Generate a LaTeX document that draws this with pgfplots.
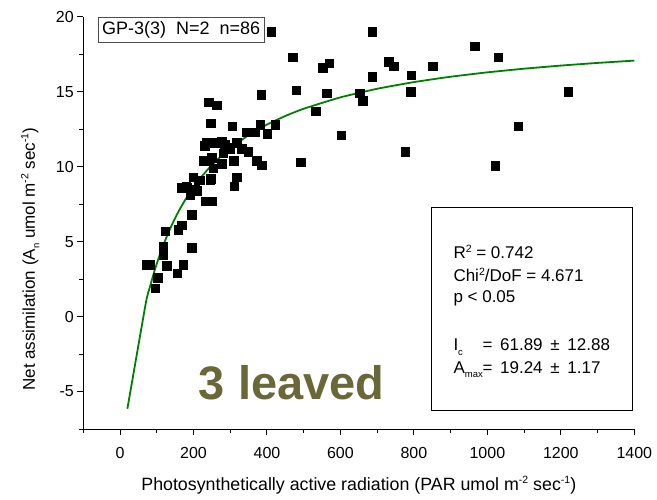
\documentclass[border=0pt]{standalone}
\usepackage{fontspec}
\setmainfont{Liberation Sans}
\usepackage{pgfplots}
\pgfplotsset{compat=1.18}
\definecolor{fitgreen}{RGB}{0,128,0}
\definecolor{olivetxt}{RGB}{106,104,56}
\newcommand{\subr}[1]{\raisebox{-4.5pt}{\fontsize{9.5}{10}\selectfont #1}}
\newcommand{\supr}[1]{\raisebox{6.5pt}{\fontsize{10.5}{11}\selectfont #1}}
\begin{document}
\begin{tikzpicture}[x=1pt,y=1pt]
\begin{axis}[
  at={(0,0)}, anchor=south west,
  scale only axis, width=551pt, height=412.3pt,
  xmin=-100, xmax=1400, ymin=-7.5, ymax=20,
  axis x line*=bottom, axis y line*=left,
  axis line style={line width=1pt, black, -},
  tick align=outside,
  xtick={0,200,...,1400}, minor xtick={-100,100,...,1300},
  ytick={-5,0,...,20}, minor ytick={-7.5,-2.5,2.5,7.5,12.5,17.5},
  major tick length=6pt, minor tick length=4pt,
  every tick/.style={black, line width=1pt},
  tick label style={font=\fontsize{16}{19}\selectfont},
  /pgf/number format/assume math mode=true,
  scaled ticks=false,
  xticklabel style={/pgf/number format/1000 sep={}, yshift=-9pt},
  xlabel={Photosynthetically active radiation (PAR umol m\supr{-2} sec\supr{-1})},
  ylabel={Net assimilation (A\subr{n} umol m\supr{-2} sec\supr{-1})},
  xlabel style={font=\fontsize{17.8}{20}\selectfont, at={(rel axis cs:0.5,0)}, anchor=center, yshift=-56pt},
  ylabel style={font=\fontsize{17}{20}\selectfont, at={(rel axis cs:0,0.412)}, anchor=center, yshift=53pt},
  clip=false,
]
\addplot[fitgreen, line width=1.8pt, smooth, tension=0.3] coordinates {
 (20,-6.15) (70,0.876) (80,1.852) (90,2.730) (100,3.523) (112,4.380) (125,5.209)
 (137,5.896) (150,6.568) (162,7.131) (175,7.687) (187,8.157) (200,8.624)
 (225,9.421) (250,10.107) (275,10.702) (300,11.226) (350,12.100) (400,12.803)
 (450,13.379) (500,13.861) (600,14.621) (700,15.193) (800,15.638) (900,15.996)
 (1000,16.288) (1100,16.532) (1200,16.739) (1300,16.917) (1400,17.071)
};
\addplot[only marks, mark=square*, mark size=4.2pt, mark options={fill=black, draw=black}] coordinates {
 (73,3.45) (82,3.45) (95,1.9) (102,2.6) (118,4.7) (118,4.1) (123,5.7) (127,3.4)
 (156,2.9) (159,5.8) (168,6.1) (172,3.45) (195,4.6) (195,6.8) (191,8.1) (232,7.7) (250,7.7)
 (168,8.6) (182,8.6) (195,8.4) (209,8.4) (200,9.3) (213,9.1) (218,9.1) (245,9.1) (247,9.2)
 (311,8.7) (318,9.3) (227,10.4) (243,10.4) (254,9.9) (277,10.2) (309,10.4) (372,10.4) (386,10.1)
 (281,10.9) (291,11.3) (318,11.6) (331,11.2) (349,11.0) (241,11.6) (263,11.6) (277,11.7)
 (236,11.6) (254,11.6) (272,11.6) (230,11.4) (285,11.5) (300,11.2) (205,8.5) (180,8.7) (250,10.6)
 (247,12.9) (306,12.7) (345,12.3) (368,12.3) (381,12.8) (401,12.2) (422,12.8) (241,14.3) (263,14.1) (384,14.8)
 (411,19.0) (686,19.0) (470,17.3) (552,16.6) (569,16.9) (731,17.0) (745,16.7) (851,16.7)
 (686,16.0) (792,16.1) (479,15.1) (563,14.9) (652,14.9) (661,14.4) (791,15.0) (533,13.7)
 (602,12.1) (777,11.0) (492,10.3) (966,18.05) (1030,17.3) (1220,15.0) (1084,12.7) (1021,10.05)
};
\end{axis}
% GP label box
\draw[line width=0.8pt, black!70] (15,386.7) rectangle (180.7,411.7);
\node[font=\fontsize{18}{20}\selectfont, anchor=center] at (97.9,399.2) {GP-3(3)\ \ N=2\ \ n=86};
% stats box
\draw[line width=0.8pt, black] (348.4,19) rectangle (549.4,221.7);
\begin{scope}[every node/.style={font=\fontsize{17}{20}\selectfont, anchor=base west, inner sep=0pt}]
\node at (370,170) {R\supr{2} = 0.742};
\node at (370,147) {Chi\supr{2}/DoF = 4.671};
\node at (370,126) {p < 0.05};
\node at (370,78) {I\subr{c}};
\node at (399,78) {=\hspace{3pt} 61.89 \hspace{3pt}±\hspace{3pt} 12.88};
\node at (370,56) {A\subr{max}};
\node at (399,56) {=\hspace{3pt} 19.24 \hspace{3pt}±\hspace{3pt} 1.17};
\end{scope}
\node[font=\fontsize{47}{50}\selectfont\bfseries, text=olivetxt, anchor=center] at (208.4,46) {3 leaved};
\pgfresetboundingbox
\useasboundingbox (-83.3,-70) rectangle (573.7,429);
\end{tikzpicture}
\end{document}
